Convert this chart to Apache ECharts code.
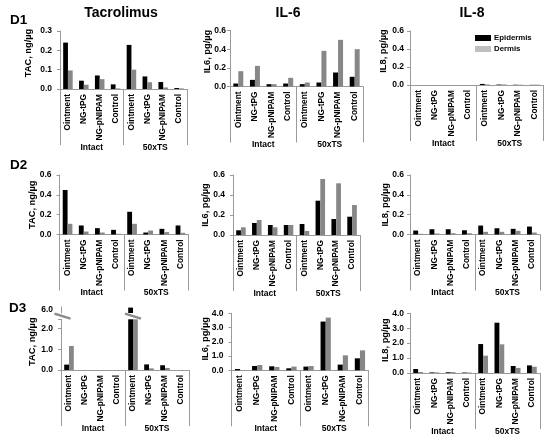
<!DOCTYPE html>
<html><head><meta charset="utf-8">
<script src="https://cdn.jsdelivr.net/npm/echarts@6.0.0/dist/echarts.min.js"></script>
<style>html,body{margin:0;padding:0;background:#fff}#c{width:550px;height:448px}</style>
</head><body><div id="c"></div>
<script>
// ---- data ----
const categories = ['Ointment','NG-tPG','NG-pNIPAM','Control','Ointment','NG-tPG','NG-pNIPAM','Control'];
const groups = ['Intact','50xTS'];
const seriesNames = ['Epidermis','Dermis'];
const rowLabels = ['D1','D2','D3'];
const panelTitles = ['Tacrolimus','IL-6','IL-8'];
const yNames = ['TAC, ng/µg','IL6, pg/µg','IL8, pg/µg'];

const d1TacEpi = [0.24, 0.043, 0.07, 0.024, 0.228, 0.065, 0.036, 0.005];
const d1TacDer = [0.096, 0.022, 0.051, 0.003, 0.1, 0.035, 0.008, 0.003];
const d1Il6Epi = [0.032, 0.071, 0.025, 0.032, 0.025, 0.043, 0.15, 0.104];
const d1Il6Der = [0.164, 0.221, 0.025, 0.093, 0.043, 0.382, 0.5, 0.4];
const d1Il8Epi = [0, 0, 0, 0, 0.012, 0.005, 0.003, 0.002];
const d1Il8Der = [0, 0, 0, 0, 0.006, 0.006, 0.003, 0.004];

const d2TacEpi = [0.449, 0.091, 0.064, 0.047, 0.229, 0.02, 0.057, 0.091];
const d2TacDer = [0.108, 0.03, 0.02, 0.007, 0.108, 0.04, 0.024, 0.017];
const d2Il6Epi = [0.047, 0.12, 0.1, 0.1, 0.11, 0.343, 0.16, 0.183];
const d2Il6Der = [0.077, 0.15, 0.077, 0.1, 0.04, 0.56, 0.517, 0.3];
const d2Il8Epi = [0.04, 0.053, 0.053, 0.043, 0.09, 0.063, 0.057, 0.08];
const d2Il8Der = [0.007, 0.01, 0.013, 0.013, 0.027, 0.027, 0.037, 0.02];

const d3TacEpi = [0.26, 0, 0, 0, 6.08, 0.27, 0.23, 0];
const d3TacDer = [1.16, 0, 0, 0, 2.45, 0.08, 0.1, 0];
const d3Il6Epi = [0.09, 0.3, 0.28, 0.14, 0.26, 3.42, 0.4, 0.84];
const d3Il6Der = [0.02, 0.37, 0.23, 0.26, 0.3, 3.7, 1.05, 1.4];
const d3Il8Epi = [0.27, 0.04, 0.05, 0.03, 1.94, 3.37, 0.47, 0.51];
const d3Il8Der = [0.07, 0.04, 0.06, 0.03, 1.16, 1.92, 0.34, 0.42];

const yMax = [[0.3, 0.6, 0.6], [0.6, 0.6, 0.6], [2.45, 4, 4]];
const yInterval = [[0.1, 0.2, 0.2], [0.2, 0.2, 0.2], [1, 1, 1]];
// broken axis of D3 Tacrolimus: lower part 0..2.45, upper part 5.9..6.1
const d3TacUpper = { min: 5.9, max: 6.1, interval: 0.1, label: 6 };

const panelData = [
  [[d1TacEpi, d1TacDer], [d1Il6Epi, d1Il6Der], [d1Il8Epi, d1Il8Der]],
  [[d2TacEpi, d2TacDer], [d2Il6Epi, d2Il6Der], [d2Il8Epi, d2Il8Der]],
  [[d3TacEpi, d3TacDer], [d3Il6Epi, d3Il6Der], [d3Il8Epi, d3Il8Der]]
];

// ---- layout ----
const FONT = "'Liberation Sans', Arial, sans-serif";
const gridBoxes = [
  [{left:60, top:31, width:127, height:58}, {left:230, top:30.5, width:133, height:56}, {left:410, top:31, width:133, height:54}],
  [{left:59.5, top:175, width:129, height:59.5}, {left:233, top:175, width:127, height:60}, {left:410, top:175, width:130, height:59.5}],
  [{left:61, top:319.3, width:128, height:50.7}, {left:231.5, top:313.3, width:137, height:57}, {left:410, top:313.3, width:130, height:59.7}]
];
const upperBox = {left:61, top:307, width:128, height:6};
const nameGaps = [[27, 18, 22], [23, 23, 20], [24, 22, 20]];
const labelMargins = [[8, 4, 6], [8, 8, 6], [8, 8, 6]];
const nameShift = [14, 0, 6]; // per row: lift of the axis name along the axis
const titlePos = [[121, 13], [288, 13], [472, 13]];
const rowLabelPos = [[10, 20], [10, 165], [9, 308]];
const AXIS = '#9a9a9a';
const COLORS = ['#000000', '#878787'];
const labelStyle = {fontSize: 8.5, fontWeight: 'bold', color: '#000', fontFamily: FONT};

const grid = [], xAxis = [], yAxis = [], series = [];
for (let r = 0; r < 3; r++) {
  for (let c = 0; c < 3; c++) {
    const k = r * 3 + c;
    grid.push(Object.assign({containLabel: false}, gridBoxes[r][c]));
    xAxis.push({
      type: 'category', gridIndex: k, data: categories, position: 'bottom',
      axisLine: {lineStyle: {color: AXIS, width: 1}},
      axisTick: {show: false},
      axisLabel: {rotate: 90, margin: 5, interval: 0, fontSize: 8.3, fontWeight: 'bold', color: '#000', fontFamily: FONT}
    });
    xAxis.push({
      type: 'category', gridIndex: k, data: groups, position: 'bottom',
      axisLine: {show: false},
      axisTick: {show: true, length: 56, lineStyle: {color: AXIS, width: 1}},
      axisLabel: Object.assign({margin: 54}, labelStyle),
      splitLine: {show: false}
    });
    const isBreak = (r === 2 && c === 0);
    yAxis.push({
      type: 'value', gridIndex: k, min: 0, max: yMax[r][c], interval: yInterval[r][c],
      name: yNames[c], nameLocation: 'middle', nameGap: nameGaps[r][c], nameMoveOverlap: false,
      nameTextStyle: {fontSize: 9.3, fontWeight: 'bold', color: '#000', fontFamily: FONT,
        padding: [0, 0, 0, nameShift[r]]},
      axisLine: {show: true, lineStyle: {color: AXIS, width: 1}},
      axisTick: {show: true, length: 3, lineStyle: {color: AXIS}},
      splitLine: {show: false},
      axisLabel: Object.assign({margin: labelMargins[r][c],
        formatter: isBreak
          ? (v => Math.abs(v - Math.round(v)) < 1e-6 ? v.toFixed(1) : '')
          : (v => v.toFixed(1))}, labelStyle)
    });
    for (let s = 0; s < 2; s++) {
      series.push({
        type: 'bar', name: seriesNames[s], xAxisIndex: 2 * k, yAxisIndex: k,
        data: panelData[r][c][s], barGap: '0%', barCategoryGap: '40%',
        itemStyle: {color: COLORS[s]}, silent: true, clip: true
      });
    }
  }
}
// upper part of the broken D3 Tacrolimus axis
grid.push(Object.assign({containLabel: false}, upperBox));
const upX = xAxis.length;
xAxis.push({type: 'category', gridIndex: 9, data: categories, show: false});
const upY = yAxis.length;
yAxis.push({
  type: 'value', gridIndex: 9, min: d3TacUpper.min, max: d3TacUpper.max, interval: d3TacUpper.interval,
  axisLine: {show: true, lineStyle: {color: AXIS, width: 1}},
  axisTick: {show: false}, splitLine: {show: false},
  axisLabel: Object.assign({margin: 8, showMinLabel: true, showMaxLabel: true,
    formatter: v => Math.abs(v - d3TacUpper.label) < 1e-6 ? v.toFixed(1) : ''}, labelStyle)
});
for (let s = 0; s < 2; s++) {
  series.push({
    type: 'bar', name: seriesNames[s], xAxisIndex: upX, yAxisIndex: upY,
    data: panelData[2][0][s], barGap: '0%', barCategoryGap: '40%',
    itemStyle: {color: COLORS[s]}, silent: true, clip: true
  });
}

const graphic = [];
panelTitles.forEach((t, i) => graphic.push({type: 'text', x: titlePos[i][0], y: titlePos[i][1],
  style: {text: t, align: 'center', verticalAlign: 'middle', font: "bold 14px " + FONT, fill: '#000'}}));
rowLabels.forEach((t, i) => graphic.push({type: 'text', x: rowLabelPos[i][0], y: rowLabelPos[i][1],
  style: {text: t, align: 'left', verticalAlign: 'middle', font: "bold 13.5px " + FONT, fill: '#000'}}));

const option = {
  animation: false,
  backgroundColor: '#fff',
  grid, xAxis, yAxis, series, graphic,
  legend: {
    data: [{name: 'Epidermis', itemStyle: {color: '#000'}}, {name: 'Dermis', itemStyle: {color: '#bfbfbf'}}],
    orient: 'vertical', left: 470, top: 29, itemWidth: 16, itemHeight: 6, itemGap: 3,
    icon: 'rect', selectedMode: false,
    textStyle: {fontSize: 7.8, fontWeight: 'bold', color: '#000', fontFamily: FONT, padding: [0, 0, 0, -2]}
  }
};
const chart = echarts.init(document.getElementById('c'), null, {renderer: 'canvas'});
chart.setOption(option);

// break marks ("//") between the two parts of the broken axis, placed via the chart's own scales
const lowTop = chart.convertToPixel({xAxisIndex: 12, yAxisIndex: 6}, [0, yMax[2][0]])[1];
const upBottom = chart.convertToPixel({xAxisIndex: upX, yAxisIndex: upY}, [0, d3TacUpper.min])[1];
const cy = (lowTop + upBottom) / 2;
const axisX = gridBoxes[2][0].left;
const barX = chart.convertToPixel({xAxisIndex: 12, yAxisIndex: 6}, [4, 0])[0];
const marks = [axisX + 1.5, barX].map(cx => ({
  type: 'line', z: 100,
  shape: {x1: cx - 8, y1: cy - 2.5, x2: cx + 8, y2: cy + 2.5},
  style: {stroke: '#8a8a8a', lineWidth: 2.5}
}));
chart.setOption({graphic: graphic.concat(marks)});
</script></body></html>
